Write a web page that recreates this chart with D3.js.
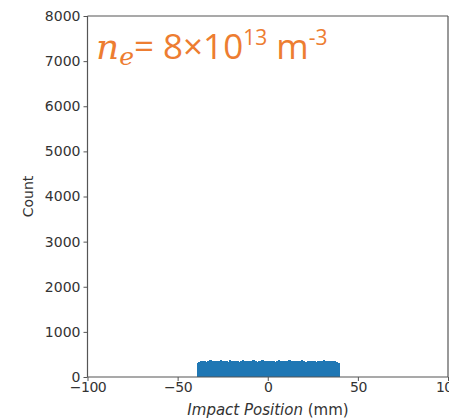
<!DOCTYPE html>
<html><head><meta charset="utf-8">
<script src="https://cdn.jsdelivr.net/npm/d3@7"></script>
<style>body{margin:0;background:#fff;overflow:hidden}svg{display:block}</style>
</head><body>
<svg id="c" width="449" height="419"></svg>
<script>
const xTicks = [-100, -50, 0, 50, 100];
const yTicks = [0, 1000, 2000, 3000, 4000, 5000, 6000, 7000, 8000];
const binStart = -39.5;
const binWidth = 1;
const counts = [300,338,352,347,360,341,355,366,349,358,344,362,351,370,346,357,361,343,368,352,
  348,359,365,342,356,371,350,345,363,354,347,367,358,341,360,352,369,346,355,362,
  349,364,353,340,358,366,351,347,361,357,344,370,350,359,346,363,355,348,367,352,
  343,360,356,365,349,358,341,362,353,347,368,351,359,345,356,362,350,339,305];

const svg = d3.select('#c');
const m = {l: 87.5, t: 16, r: 448, b: 377};
const x = d3.scaleLinear().domain([-100, 100]).range([m.l, m.r]);
const y = d3.scaleLinear().domain([0, 8000]).range([m.b, m.t]);
const orange = '#ED7D31';

// bars
svg.append('g').attr('shape-rendering', 'crispEdges').selectAll('rect').data(counts).join('rect')
  .attr('x', (d, i) => x(binStart + i * binWidth))
  .attr('width', x(binWidth) - x(0) + 0.6)
  .attr('y', d => y(d))
  .attr('height', d => y(0) - y(d))
  .attr('fill', '#1f77b4');

// spines
const sp = svg.append('g').attr('stroke', '#555').attr('stroke-width', 1.2).attr('fill', 'none');
sp.append('line').attr('x1', m.l).attr('x2', m.l).attr('y1', m.t).attr('y2', m.b);
sp.append('line').attr('x1', m.l).attr('x2', m.r).attr('y1', m.b).attr('y2', m.b);
sp.append('line').attr('x1', m.l).attr('x2', m.r).attr('y1', m.t).attr('y2', m.t);
sp.append('line').attr('x1', m.r).attr('x2', m.r).attr('y1', m.t).attr('y2', m.b);

const fmt = d => d < 0 ? '\u2212' + Math.abs(d) : String(d);
const xa = svg.append('g').attr('transform', `translate(0,${m.b})`)
  .call(d3.axisBottom(x).tickValues(xTicks).tickFormat(fmt).tickSize(4).tickPadding(1));
const ya = svg.append('g').attr('transform', `translate(${m.l},0)`)
  .call(d3.axisLeft(y).tickValues(yTicks).tickFormat(d => String(d)).tickSize(4).tickPadding(3));
[xa, ya].forEach(a => {
  a.select('.domain').remove();
  a.selectAll('line').attr('stroke', '#555');
  a.selectAll('text').attr('fill', '#333').style('font-family', 'DejaVu Sans').style('font-size', '14px');
});
xa.selectAll('text').style('letter-spacing', '-0.5px');

svg.append('text').attr('transform', `translate(33,${(m.t + m.b) / 2}) rotate(-90)`)
  .attr('text-anchor', 'middle').attr('fill', '#333')
  .style('font-family', 'DejaVu Sans').style('font-size', '14px').text('Count');

const xl = svg.append('text').attr('x', 268).attr('y', 415).attr('text-anchor', 'middle')
  .attr('fill', '#333').style('font-family', 'DejaVu Sans').style('font-size', '15px');
xl.append('tspan').attr('font-style', 'italic').text('Impact Position');
xl.append('tspan').text(' (mm)');

// annotation
const t = svg.append('text').attr('x', 96).attr('y', 59).attr('fill', orange)
  .style('font-family', 'Open Sans').style('font-size', '35px');
t.append('tspan').attr('font-style', 'italic').style('font-family', 'DejaVu Serif').style('font-size', '36px').text('n');
t.append('tspan').attr('font-style', 'italic').style('font-family', 'DejaVu Serif').style('font-size', '25px').attr('dy', 6).text('e');
t.append('tspan').attr('dy', -6).text('= 8×10');
t.append('tspan').attr('dy', -14).style('font-size', '21px').text('13');
t.append('tspan').attr('dy', 14).text(' m');
t.append('tspan').attr('dy', -14).style('font-size', '21px').text('-3');
</script>
</body></html>
